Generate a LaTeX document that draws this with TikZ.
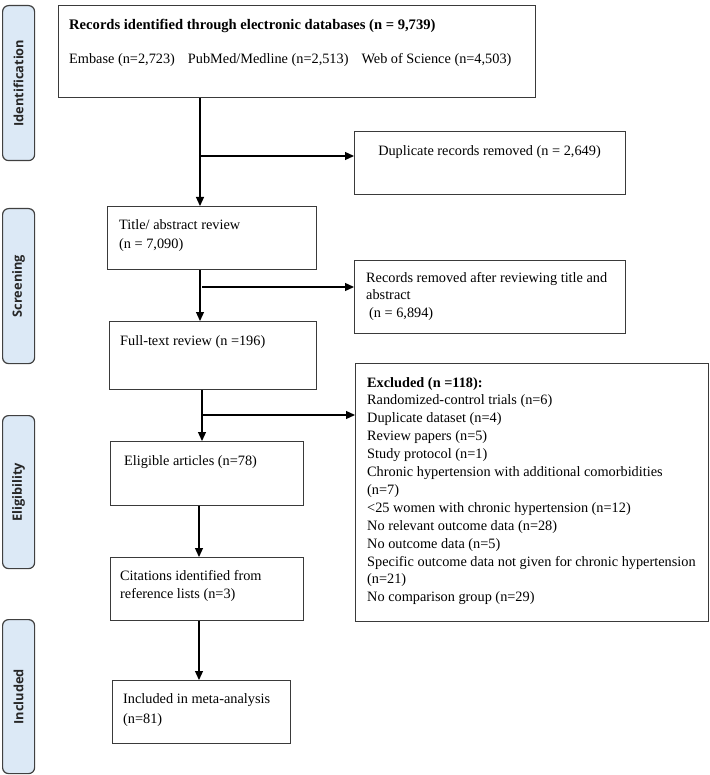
\documentclass[tikz,border=0pt]{standalone}
\usepackage{fontspec}
\setmainfont{Liberation Serif}
\newfontfamily\labfont{Open Sans}
\usetikzlibrary{arrows.meta}
\definecolor{boxc}{HTML}{3A3A3A}
\definecolor{labc}{HTML}{404040}
\definecolor{labf}{HTML}{DCE9F6}
\begin{document}
\begin{tikzpicture}[x=1pt,y=-1pt,
  box/.style={draw=boxc, line width=1.1pt, inner sep=0pt, anchor=north west},
  phase/.style={draw=labc, fill=labf, rounded corners=6pt, line width=1.2pt, inner sep=0pt, anchor=north west, minimum width=32pt},
  phasetxt/.style={rotate=90, inner sep=0pt, text=black!85, font=\labfont\bfseries\fontsize{12.8}{15}\selectfont},
  txt/.style={inner sep=0pt, anchor=base west, font=\fontsize{14.3}{17}\selectfont},
  arr/.style={line width=1.2pt, draw=black, -{Triangle[length=9pt,width=8pt]}}]
\useasboundingbox (0,0) rectangle (709,775);

% phase labels
\node[phase, minimum height=155pt] (pid) at (2,5) {};
\node[phasetxt] (pidt) at (pid.center) {Identification};
\node[phase, minimum height=155pt] (psc) at (2,208) {};
\node[phasetxt] (psct) at (psc.center) {Screening};
\node[phase, minimum height=153pt] (pel) at (2,415) {};
\node[phasetxt] (pelt) at (pel.center) {Eligibility};
\node[phase, minimum height=154pt] (pin) at (2,619) {};
\node[phasetxt] (pint) at (pin.center) {Included};

% boxes
\node[box, minimum width=477pt, minimum height=92pt] (top) at (58,5) {};
\node[txt, font=\bfseries\fontsize{14.6}{17}\selectfont] (topt1) at (69,30) {Records identified through electronic databases (n = 9,739)};
\node[txt] (topt2) at (69,64) {Embase (n=2,723)\hspace{13pt}PubMed/Medline (n=2,513)\hspace{13pt}Web of Science (n=4,503)};

\node[box, minimum width=271pt, minimum height=63pt] (dup) at (354,131) {};
\node[txt, anchor=base] (dupt) at (489.5,156) {Duplicate records removed (n = 2,649)};

\node[box, minimum width=209pt, minimum height=63pt] (title) at (107,206) {};
\node[txt] (titlet) at (119,230) {\parbox[t]{190pt}{\raggedright\fontsize{14.3}{19}\selectfont Title/ abstract review\\(n = 7,090)}};

\node[box, minimum width=271pt, minimum height=73pt] (rem) at (354,260) {};
\node[txt] (remt) at (366,283) {\parbox[t]{258pt}{\raggedright\fontsize{14.3}{17}\selectfont Records removed after reviewing title and\\abstract\\\hspace*{3pt}(n = 6,894)}};

\node[box, minimum width=207pt, minimum height=68pt] (full) at (109,321) {};
\node[txt] (fullt) at (120,345) {Full-text review (n =196)};

\node[box, minimum width=193pt, minimum height=64pt] (elig) at (110,441) {};
\node[txt] (eligt) at (124,465) {Eligible articles (n=78)};

\node[box, minimum width=193pt, minimum height=63pt] (cit) at (110,557) {};
\node[txt] (citt) at (120,580) {\parbox[t]{180pt}{\raggedright\fontsize{14.3}{18}\selectfont Citations identified from\\reference lists (n=3)}};

\node[box, minimum width=178pt, minimum height=63pt] (inc) at (112,680) {};
\node[txt] (inct) at (123,703) {\parbox[t]{165pt}{\raggedright\fontsize{14.3}{20}\selectfont Included in meta-analysis\\(n=81)}};

\node[box, minimum width=353pt, minimum height=258pt] (exc) at (355,363) {};
\node[txt] (exct) at (367,387) {\parbox[t]{338pt}{\raggedright\fontsize{14.3}{17.9}\selectfont
\textbf{Excluded (n =118):}\\
Randomized-control trials (n=6)\\
Duplicate dataset (n=4)\\
Review papers (n=5)\\
Study protocol (n=1)\\
Chronic hypertension with additional comorbidities\\
(n=7)\\
<25 women with chronic hypertension (n=12)\\
No relevant outcome data (n=28)\\
No outcome data (n=5)\\
Specific outcome data not given for chronic hypertension\\
(n=21)\\
No comparison group (n=29)}};

% connectors
\coordinate (x1) at (200,0);
\coordinate (x2) at (202,0);
\coordinate (x3) at (199,0);
\coordinate (b1) at (200,156);
\coordinate (b2) at (202,287);
\coordinate (b3) at (202,415);
\draw[arr] (top.south -| x1) -- (title.north -| x1);
\draw[arr] (b1) -- (b1 -| dup.west);
\draw[arr] (title.south -| x1) -- (full.north -| x1);
\draw[arr] (b2) -- (b2 -| rem.west);
\draw[arr] (full.south -| x2) -- (elig.north -| x2);
\draw[arr] (b3) -- (b3 -| exc.west);
\draw[arr] (elig.south -| x3) -- (cit.north -| x3);
\draw[arr] (cit.south -| x3) -- (inc.north -| x3);
\end{tikzpicture}
\end{document}
